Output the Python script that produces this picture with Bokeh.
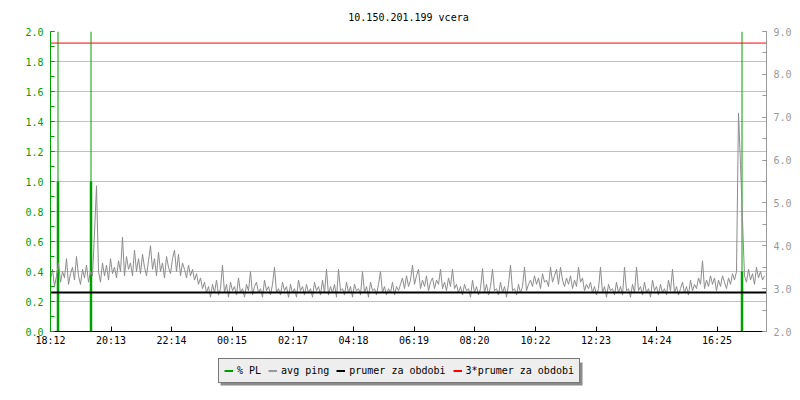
import numpy as np
from bokeh.plotting import figure
from bokeh.layouts import column
from bokeh.models import (Range1d, LinearAxis, SingleIntervalTicker, FixedTicker,
                          PrintfTickFormatter, Legend, LegendItem)
from bokeh.embed import file_html
from bokeh.resources import INLINE

# ---------------- data ----------------
title_text = "10.150.201.199 vcera"
start_label = "18:12"
tick_labels = ["18:12", "20:13", "22:14", "00:15", "02:17", "04:18",
               "06:19", "08:20", "10:22", "12:23", "14:24", "16:25"]
span_minutes = 1432          # length of the period shown
sample_step = 4              # minutes between ping samples

# avg ping (ms), one value per sample
ping = [
    3.2, 3.45, 3.05, 3.3, 3.6, 3.15, 3.4, 3.25, 3.7, 3.1,
    3.35, 3.5, 3.2, 3.75, 3.3, 3.1, 3.45, 3.25, 3.55, 3.15,
    3.4, 3.3, 4.3, 5.4, 3.4,
    3.15, 3.6, 3.3, 3.55, 3.2, 3.7, 3.35, 3.5, 3.25, 3.65,
    3.4, 4.2, 3.3, 3.75, 3.45, 3.6, 3.3, 3.9, 3.4, 3.7,
    3.35, 3.8, 3.5, 3.3, 3.65, 4.0, 3.45, 3.7, 3.3, 3.85,
    3.4, 3.6, 3.25, 3.75, 3.5, 3.35, 3.7, 3.9, 3.4, 3.8,
    3.3, 3.6, 3.45, 3.25, 3.55, 3.3, 3.45, 3.2,
    3.35, 3.1, 3.25, 3.0, 3.15, 2.9,
    3.05, 2.8, 3.1, 2.9, 3.2, 2.85, 3.0, 3.55, 2.9, 3.1,
    2.8, 3.15, 2.95, 3.05, 2.85, 3.25, 2.9, 3.0, 2.8, 3.1,
    2.95, 3.4, 2.85, 3.05, 3.15, 2.9, 3.0, 2.8, 3.2, 2.95,
    3.05, 2.85, 3.1, 3.5, 2.9, 3.0, 2.85, 3.15, 2.95, 3.05, 2.8,
    3.1, 2.9, 3.0, 2.8, 3.2, 2.95, 3.05, 2.85, 3.1, 2.9,
    3.0, 2.8, 3.15, 2.95, 3.05, 2.85, 3.2, 2.9, 3.45, 2.85,
    3.05, 2.9, 3.1, 2.8, 3.45, 2.95, 3.0, 2.85, 3.15, 2.9,
    3.05, 2.8, 3.1, 2.95, 3.0, 2.85, 3.4, 2.9, 3.05, 2.8,
    3.15, 2.95, 3.0, 2.85, 3.1, 3.4, 2.9, 3.05, 2.85, 3.0,
    2.9, 3.15, 2.85, 3.05, 2.95,
    3.1, 3.25, 3.0, 3.3, 3.05, 3.2, 3.55, 3.1, 3.3, 3.45,
    3.0, 3.2, 3.05, 3.3, 2.95, 3.15, 3.25, 3.0, 3.2, 3.1,
    3.45, 3.0, 3.15, 2.95, 3.25, 3.05, 3.45, 3.0, 3.1, 2.9,
    3.05, 2.85, 3.1, 2.95, 3.0, 2.8, 3.2, 2.9, 3.05, 2.85,
    3.0, 3.47, 2.9, 3.1, 2.85, 3.05, 3.45, 2.95, 3.0, 2.85,
    3.15, 2.9, 3.05, 2.8, 3.1, 3.55, 2.95, 3.0, 2.85, 3.1,
    2.9, 3.05, 3.5, 2.95, 3.1,
    3.2, 3.05, 3.3, 3.1, 3.25, 3.0, 3.35, 3.15, 3.2, 3.05,
    3.5, 3.15, 3.3, 3.45, 3.1, 3.5, 3.2, 3.05, 3.25, 3.1,
    3.3, 3.0, 3.2, 3.05, 3.5, 3.15, 3.25, 2.95, 3.1, 3.0,
    3.15, 2.9, 3.05, 2.85, 3.0,
    3.5, 2.9, 3.05, 2.8, 3.1, 2.95, 3.0, 2.85, 3.15, 2.9,
    3.05, 2.85, 3.5, 2.95, 3.0, 2.8, 3.1, 2.9, 3.5, 2.95,
    3.05, 2.85, 3.15, 2.9, 3.0, 2.8, 3.2, 2.95, 3.05, 2.85,
    3.1, 2.9, 3.0, 2.85, 3.2, 2.95, 3.45, 2.9, 3.05, 2.85,
    3.0, 3.15, 2.9, 3.05, 2.85, 3.2, 2.95, 3.1, 3.0, 3.25,
    3.1, 3.65, 3.0, 3.2, 3.05, 3.3, 3.1, 3.25, 2.95, 3.2,
    3.05, 3.3, 3.15, 3.0, 3.25, 3.1, 3.35, 3.2, 3.4,
    7.1, 5.9,
    4.6, 3.3, 3.15, 3.45, 3.2, 3.35, 3.1, 3.5, 3.25, 3.4, 3.2, 3.3,
]

# packet loss events: minute after start and % PL
pl_minutes = [15, 81, 1383]
pl_values = [1.0, 1.0, 0.4]

prumer = 2.91                # average for the period (ms)

legend_labels = ["% PL", "avg ping", "prumer za obdobi", "3*prumer za obdobi"]

# ---------------- derived ----------------
def to_min(lbl):
    h, m = map(int, lbl.split(":"))
    h0, m0 = map(int, start_label.split(":"))
    return ((h * 60 + m) - (h0 * 60 + m0)) % 1440

tick_pos = [to_min(t) for t in tick_labels]
ping_min = np.arange(len(ping)) * sample_step
x_line = [0, span_minutes]

GREEN = "#00a000"
GRAY = "#999999"
PING = "#8c8c8c"
FONT = "DejaVu Sans Mono"

p = figure(width=800, height=350,
           x_range=Range1d(0, span_minutes), y_range=Range1d(0, 2),
           output_backend="svg", toolbar_location=None,
           min_border_left=50, min_border_top=31, min_border_right=34,
           min_border_bottom=19, title=title_text)
p.extra_y_ranges = {"ping": Range1d(2, 9)}
p.outline_line_color = None
p.background_fill_color = "white"

p.title.align = "center"
p.title.text_font = FONT
p.title.text_font_size = "10px"
p.title.text_font_style = "normal"
p.title.text_color = "black"
p.title.standoff = 18

# axes
p.xaxis.ticker = FixedTicker(ticks=tick_pos, minor_ticks=[])
p.xaxis.major_label_overrides = {tp: tl for tp, tl in zip(tick_pos, tick_labels)}
p.xaxis.axis_line_color = "black"
p.xaxis.major_tick_in = 5
p.xaxis.major_tick_out = 0
p.xaxis.major_label_standoff = 3
p.xaxis.major_label_text_font = FONT
p.xaxis.major_label_text_font_size = "10px"
p.xaxis.major_label_text_color = "black"

p.yaxis.ticker = SingleIntervalTicker(interval=0.2, num_minor_ticks=2)
p.yaxis.formatter = PrintfTickFormatter(format="%.1f")
p.yaxis.axis_line_color = GREEN
p.yaxis.major_tick_line_color = GREEN
p.yaxis.minor_tick_line_color = GREEN
p.yaxis.major_tick_in = 4
p.yaxis.major_tick_out = 0
p.yaxis.minor_tick_in = 4
p.yaxis.minor_tick_out = 0
p.yaxis.major_label_standoff = 7
p.yaxis.major_label_text_font = FONT
p.yaxis.major_label_text_font_size = "10px"
p.yaxis.major_label_text_color = GREEN

raxis = LinearAxis(y_range_name="ping",
                   ticker=SingleIntervalTicker(interval=1.0, num_minor_ticks=2),
                   formatter=PrintfTickFormatter(format="%.1f"))
raxis.axis_line_color = GRAY
raxis.major_tick_line_color = GRAY
raxis.minor_tick_line_color = GRAY
raxis.major_tick_in = 4
raxis.major_tick_out = 0
raxis.minor_tick_in = 4
raxis.minor_tick_out = 0
raxis.major_label_standoff = 7
raxis.major_label_text_font = FONT
raxis.major_label_text_font_size = "10px"
raxis.major_label_text_color = GRAY
p.add_layout(raxis, "right")

p.xgrid.grid_line_color = None
p.ygrid.grid_line_color = "#c0c0c0"
p.ygrid.grid_line_width = 1

# glyphs
pl_top = [p.y_range.end] * len(pl_minutes)
pl_zero = [0] * len(pl_minutes)
p.segment(x0=pl_minutes, y0=pl_zero, x1=pl_minutes, y1=pl_top,
          line_color=GREEN, line_width=1)
p.segment(x0=pl_minutes, y0=pl_zero, x1=pl_minutes, y1=pl_values,
          line_color=GREEN, line_width=2.5)

p.line(x=ping_min, y=ping, line_color=PING, line_width=1, y_range_name="ping")
p.line(x=x_line, y=[prumer, prumer], line_color="black",
       line_width=2, y_range_name="ping")
p.line(x=x_line, y=[3 * prumer, 3 * prumer], line_color="red",
       line_width=1, y_range_name="ping")

# ---------------- legend strip ----------------
LEG_X, LEG_Y, LEG_W, LEG_H, SHADOW = 168, 17, 362, 23, 2
q = figure(width=800, height=50, x_range=Range1d(0, 716), y_range=Range1d(0, 50),
           output_backend="svg", toolbar_location=None,
           x_axis_type=None, y_axis_type=None,
           min_border_left=50, min_border_right=34, min_border_top=0,
           min_border_bottom=0)
q.outline_line_color = None
q.xgrid.grid_line_color = None
q.ygrid.grid_line_color = None

# drop shadow of the legend box
q.quad(left=[LEG_X + SHADOW], right=[LEG_X + SHADOW + LEG_W],
       bottom=[LEG_Y - SHADOW], top=[LEG_Y - SHADOW + LEG_H],
       fill_color="#8a8a8a", line_color=None)

nan = np.array([np.nan, np.nan])
lg_renderers = [
    q.line(x=nan, y=nan, line_color=GREEN, line_width=2),
    q.line(x=nan, y=nan, line_color=GRAY, line_width=2),
    q.line(x=nan, y=nan, line_color="black", line_width=2),
    q.line(x=nan, y=nan, line_color="red", line_width=2),
]

lg = Legend(items=[LegendItem(label=lab, renderers=[r])
                   for lab, r in zip(legend_labels, lg_renderers)],
            orientation="horizontal", location=(LEG_X, LEG_Y))
lg.border_line_color = "black"
lg.border_line_width = 1
lg.background_fill_color = "#eeeeee"
lg.background_fill_alpha = 1
lg.label_text_font = FONT
lg.label_text_font_size = "10px"
lg.label_text_color = "black"
lg.glyph_width = 9
lg.glyph_height = 13
lg.label_height = 13
lg.label_standoff = 4
lg.spacing = 7
lg.padding = 5
lg.margin = 0
q.add_layout(lg)

layout = column(p, q, spacing=0)
open("out.html", "w").write(file_html(layout, INLINE))
